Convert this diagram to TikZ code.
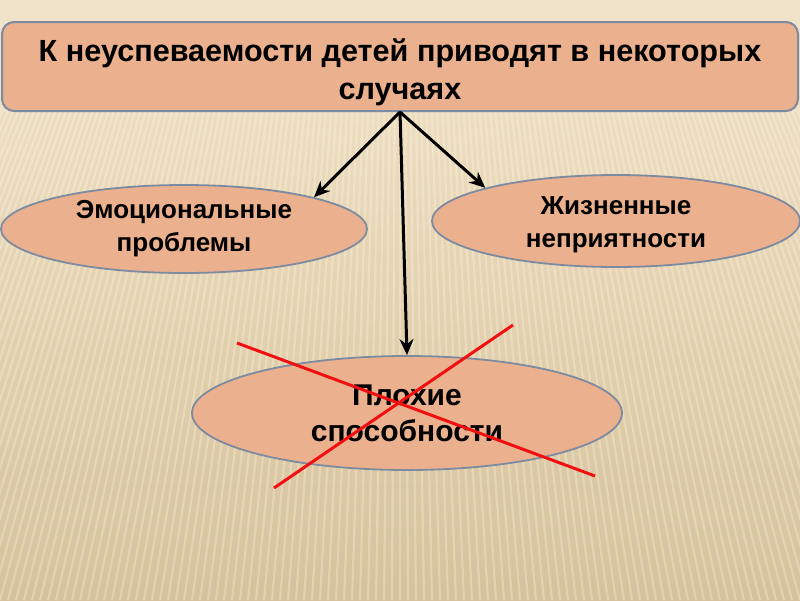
\documentclass[tikz,border=0pt]{standalone}
\usepackage{fontspec}
\setmainfont{Liberation Sans}
\usetikzlibrary{shapes.geometric,arrows.meta}
\definecolor{bgtop}{HTML}{F1E3C9}
\definecolor{bgmid}{HTML}{EDDDBE}
\definecolor{bgbot}{HTML}{D6C29A}
\definecolor{salmon}{HTML}{EBB08E}
\definecolor{edge}{HTML}{7D8BA0}
\definecolor{xred}{HTML}{F01010}
\begin{document}
\begin{tikzpicture}[x=1pt,y=-1pt,
 box/.style={draw=edge, line width=2pt, fill=salmon, rounded corners=12pt, inner sep=0pt, font=\bfseries\fontsize{30.6}{38}\selectfont, align=center},
 oval/.style={ellipse, draw=edge, line width=1.8pt, fill=salmon, inner sep=0pt, font=\bfseries\fontsize{26}{33}\selectfont, align=center},
 bigoval/.style={oval, font=\bfseries\fontsize{30}{36}\selectfont},
 arr/.style={-{Stealth[length=16pt,width=14pt]}, line width=3pt, black},
 cross/.style={xred, line width=3pt}]
\useasboundingbox (0,0) rectangle (800,600);
\fill[bgtop] (0,0) rectangle (800,115);
\shade[top color=bgmid, bottom color=bgbot] (0,112) rectangle (800,600);
\begin{scope}
\clip (0,112) rectangle (800,600);
\foreach \i in {-80,...,80} \draw[white, opacity=0.25, line width=2.2pt] (400,-850) -- (400+\i*8,600);
\end{scope}
\node[box, minimum width=796pt, minimum height=89pt] (top) at (400,66.5) {\rule{0pt}{35pt}К неуспеваемости детей приводят в некоторых\\случаях};
\node[oval, minimum width=366pt, minimum height=88pt] (emo) at (184,229) {Эмоциональные\\проблемы};
\node[oval, minimum width=368pt, minimum height=92pt] (life) at (616,221) {\rule{0pt}{25pt}Жизненные\\неприятности};
\node[bigoval, minimum width=430pt, minimum height=114pt] (bad) at (407,413) {Плохие\\способности};
\draw[arr] (top.south) -- (emo.north east);
\draw[arr] (top.south) -- (life.north west);
\draw[arr] (top.south) -- (bad.north);
\coordinate (xa1) at (237,343);
\coordinate (xa2) at (595,476);
\coordinate (xb1) at (513,325);
\coordinate (xb2) at (274,488);
\draw[cross] (xa1) -- (xa2);
\draw[cross] (xb1) -- (xb2);
\end{tikzpicture}
\end{document}
